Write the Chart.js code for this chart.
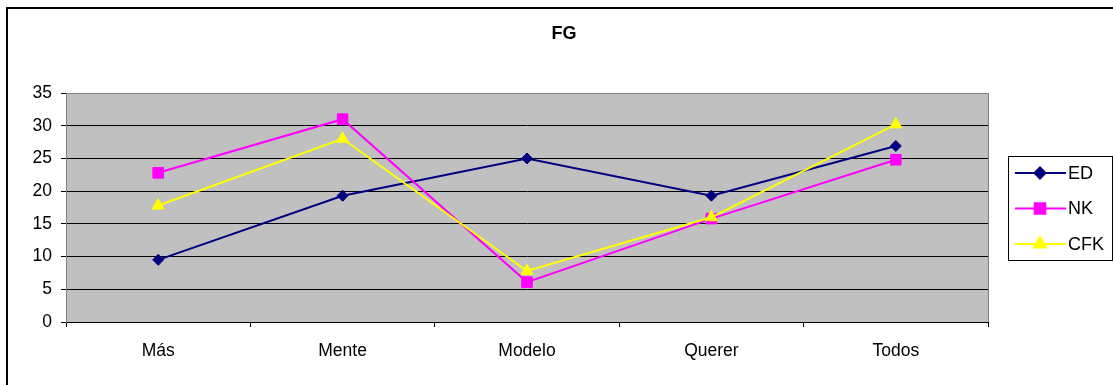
<!DOCTYPE html>
<html>
<head>
<meta charset="utf-8">
<script src="https://cdn.jsdelivr.net/npm/chart.js@4/dist/chart.umd.min.js"></script>
<style>
  html, body { margin: 0; padding: 0; background: #fff; }
  #wrap { width: 1113px; height: 385px; position: relative; }
</style>
</head>
<body>
<div id="wrap"><canvas id="fg-chart"></canvas></div>
<script>
const chartTitle = "FG";
const categories = ["Más", "Mente", "Modelo", "Querer", "Todos"];
const seriesNames = ["ED", "NK", "CFK"];
const edValues = [9.5, 19.3, 25, 19.3, 26.9];
const nkValues = [22.8, 31, 6.1, 15.8, 24.8];
const cfkValues = [17.8, 28, 7.8, 16, 30.2];
const yTicks = { min: 0, max: 35, step: 5 };

const FONT = "'Liberation Sans', Arial, sans-serif";

// plot background, frame, title and legend box
const framePlugin = {
  id: "frame",
  beforeDraw(chart) {
    const { ctx, chartArea: a } = chart;
    ctx.save();
    ctx.fillStyle = "#c0c0c0";
    ctx.fillRect(a.left, a.top, a.right - a.left, a.bottom - a.top);
    ctx.strokeStyle = "#808080";
    ctx.lineWidth = 1;
    ctx.strokeRect(Math.round(a.left) + 0.5, Math.round(a.top) + 0.5,
      Math.round(a.right - a.left), Math.round(a.bottom - a.top));
    // outer chart border (left + top visible)
    ctx.fillStyle = "#000";
    ctx.fillRect(6, 7, 2, 385);
    ctx.fillRect(6, 7, 1113, 2);
    ctx.restore();
  },
  afterDraw(chart) {
    const ctx = chart.ctx;
    ctx.save();
    ctx.fillStyle = "#000";
    ctx.font = "bold 18px " + FONT;
    ctx.textAlign = "center";
    ctx.textBaseline = "middle";
    ctx.fillText(chartTitle, 564, 34);

    // legend
    const bx = 1008, by = 156, bw = 104, bh = 104;
    ctx.strokeStyle = "#000";
    ctx.lineWidth = 1;
    ctx.strokeRect(bx + 0.5, by + 0.5, bw, bh);
    ctx.font = "18px " + FONT;
    ctx.textAlign = "left";
    chart.data.datasets.forEach((ds, i) => {
      const y = 173 + i * 35.5;
      ctx.strokeStyle = ds.borderColor;
      ctx.lineWidth = 2;
      ctx.beginPath();
      ctx.moveTo(1015, y);
      ctx.lineTo(1066, y);
      ctx.stroke();
      ctx.fillStyle = ds.backgroundColor;
      Chart.helpers.drawPoint(ctx, {
        pointStyle: ds.pointStyle, radius: ds.pointRadius, rotation: 0, borderWidth: 1
      }, 1040, y);
      ctx.fillStyle = "#000";
      ctx.fillText(ds.label, 1068, y + 1);
    });
    ctx.restore();
  }
};

const colors = ["#000080", "#ff00ff", "#ffff00"];
const styles = ["rectRot", "rect", "triangle"];
const radii = [5.5, 7.5, 7];
const values = [edValues, nkValues, cfkValues];

const datasets = seriesNames.map((name, i) => ({
  label: name,
  data: values[i],
  borderColor: colors[i],
  backgroundColor: colors[i],
  pointBackgroundColor: colors[i],
  pointBorderColor: colors[i],
  pointStyle: styles[i],
  pointRadius: radii[i],
  pointBorderWidth: 1,
  borderWidth: 2,
  tension: 0,
  order: 3 - i
}));

new Chart(document.getElementById("fg-chart"), {
  type: "line",
  data: { labels: categories, datasets: datasets },
  options: {
    responsive: true,
    maintainAspectRatio: false,
    animation: false,
    layout: { padding: { top: 93, left: 10, right: 125, bottom: 0 } },
    plugins: {
      legend: { display: false },
      title: { display: false },
      tooltip: { enabled: false }
    },
    scales: {
      x: {
        offset: true,
        afterFit: (s) => { s.height = 63; },
        grid: { offset: true, drawOnChartArea: false, drawTicks: true, tickLength: 5, tickColor: "#000" },
        border: { color: "#000" },
        ticks: { color: "#000", font: { family: FONT, size: 17.5 }, padding: 14, maxRotation: 0 }
      },
      y: {
        min: yTicks.min,
        max: yTicks.max,
        afterFit: (s) => { s.width = 56; },
        grid: {
          color: (c) => (c.tick && c.tick.value === yTicks.max ? "#808080" : "#000"),
          tickColor: "#000",
          tickLength: 5
        },
        border: { color: "#808080" },
        ticks: { stepSize: yTicks.step, color: "#000", font: { family: FONT, size: 17.5 }, padding: 9 }
      }
    }
  },
  plugins: [framePlugin]
});
</script>
</body>
</html>
